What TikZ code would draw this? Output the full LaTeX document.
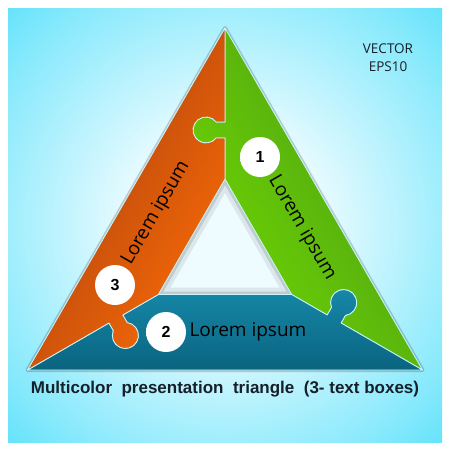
\documentclass[tikz,border=0pt]{standalone}
\usepackage{fontspec}
\setmainfont{Open Sans}
\newfontfamily\titlefont{Liberation Sans}

\definecolor{bgout}{HTML}{10D2F8}
\definecolor{bgmid}{HTML}{86E9FC}
\definecolor{bgin}{HTML}{EEFCFF}
\definecolor{orgdark}{HTML}{A63E10}
\definecolor{orglight}{HTML}{F86A06}
\definecolor{grndark}{HTML}{4A9A18}
\definecolor{grnlight}{HTML}{70D800}
\definecolor{bludark}{HTML}{0A6480}
\definecolor{blulight}{HTML}{1688A8}
\definecolor{seam}{HTML}{C8F6FF}
\definecolor{txtdark}{HTML}{15202B}

\pgfdeclareradialshading{bgshade}{\pgfpoint{0bp}{0bp}}{%
  color(0bp)=(bgin); color(10bp)=(bgin); color(30bp)=(bgmid);
  color(50bp)=(bgout); color(75bp)=(bgout)}
\pgfdeclareradialshading{discshade}{\pgfpoint{-9bp}{9bp}}{%
  color(0bp)=(white); color(40bp)=(white); color(64bp)=(gray!60)}

% one piece, drawn in the frame of the green one
\newcommand{\piecepath}{%
  (225,28) -- (422.5,370)
  -- (341.09,323) -- (345.47,315.43) arc[start angle=82, end angle=-202, radius=13]
  -- (327.24,315) -- (291.7,294.5) -- (225,179)
  -- (225,138) -- (216.25,138) arc[start angle=38, end angle=322, radius=13]
  -- (225,122) -- cycle}

\begin{document}
\begin{tikzpicture}[x=1pt, y=-1pt,
  seamline/.style={draw=seam, line width=0.8pt, line join=round},
  lorem/.style={font=\fontsize{19}{19}\selectfont, text=black},
  numdisc/.style={circle, shading=discshade, minimum size=40pt, inner sep=0pt,
    font=\titlefont\bfseries\fontsize{16}{16}\selectfont}]

  \useasboundingbox (0,0) rectangle (450,450);
  \fill[white] (0,0) rectangle (450,450);
  \shade[shading=bgshade] (8,8) rectangle (442,442);

  % --- ombra esterna ---
  \draw[black, opacity=.18, line width=4pt, line join=round]
    (225,28) -- (422.5,370) -- (27.5,370) -- cycle;

  % --- buco interno con ombra ---
  \fill[bgin] (225,179) -- (291.7,294.5) -- (158.3,294.5) -- cycle;
  \begin{scope}
    \clip (225,179) -- (291.7,294.5) -- (158.3,294.5) -- cycle;
    \draw[black, opacity=.08, line width=14pt] (225,179) -- (291.7,294.5) -- (158.3,294.5) -- cycle;
    \draw[black, opacity=.12, line width=6pt] (225,179) -- (291.7,294.5) -- (158.3,294.5) -- cycle;
  \end{scope}

  % --- pezzo verde (1) ---
  \shade[top color=grndark, bottom color=grnlight, shading angle=-60, seamline] \piecepath;

  % --- pezzo blu (2) ---
  \begin{scope}[rotate around={-120:(225,256)}]
    \shade[top color=bludark, bottom color=blulight, shading angle=180, seamline] \piecepath;
  \end{scope}

  % --- pezzo arancio (3) ---
  \begin{scope}[rotate around={120:(225,256)}]
    \shade[top color=orgdark, bottom color=orglight, shading angle=60, seamline] \piecepath;
  \end{scope}

  % --- testi ---
  \node[lorem, rotate=-60] (txtgreen) at (302,228) {Lorem ipsum};
  \node[lorem] (txtblue) at (248,332) {Lorem ipsum};
  \node[lorem, rotate=60] (txtorange) at (156,213) {Lorem ipsum};

  % --- numeri ---
  \node[numdisc] (num1) at (260,157) {1};
  \node[numdisc] (num2) at (166,332) {2};
  \node[numdisc] (num3) at (115,285) {3};

  \node[font=\fontsize{13.5}{18}\selectfont, text=txtdark, align=center] (vector) at (388,58) {VECTOR\\EPS10};
  \node[font=\titlefont\bfseries\fontsize{17}{17}\selectfont, text=txtdark] (title) at (225,389)
    {Multicolor\ \ presentation\ \ triangle\ \ (3- text boxes)};

\end{tikzpicture}
\end{document}
